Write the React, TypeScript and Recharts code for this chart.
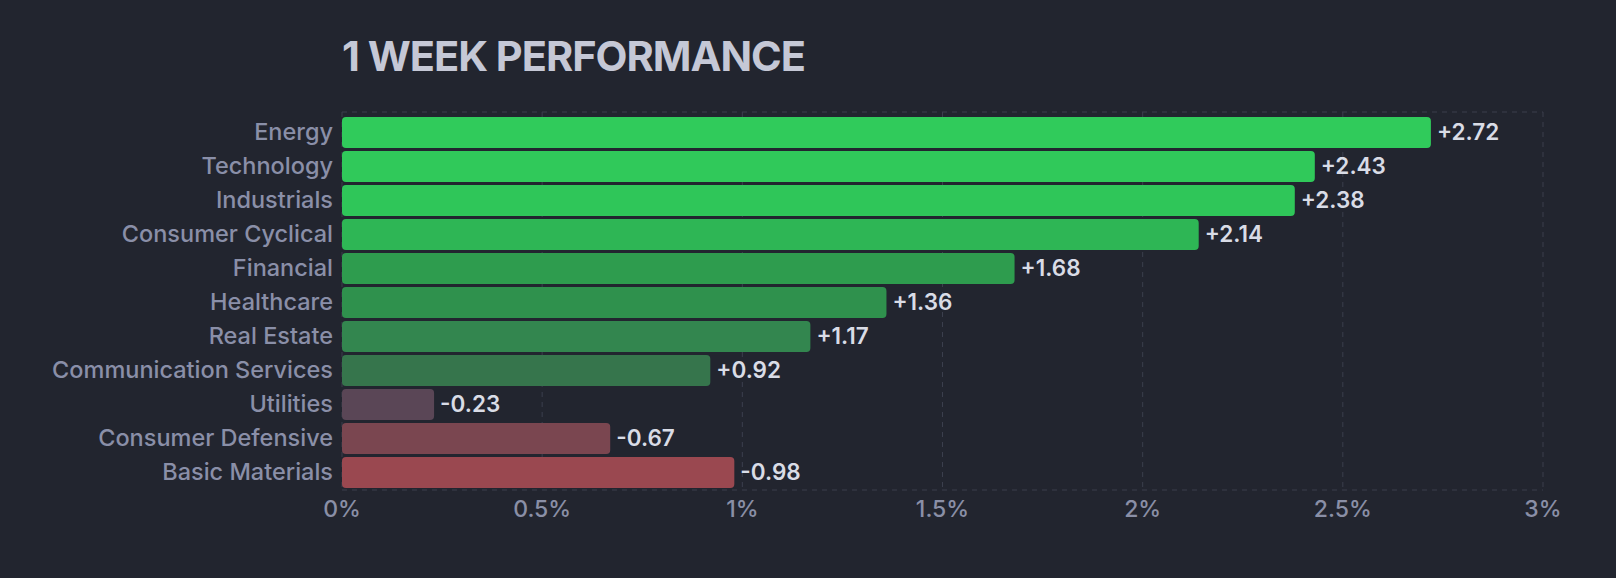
import { BarChart, Bar, XAxis, YAxis, CartesianGrid, Cell, LabelList } from "recharts";

const sectors = [
  "Energy",
  "Technology",
  "Industrials",
  "Consumer Cyclical",
  "Financial",
  "Healthcare",
  "Real Estate",
  "Communication Services",
  "Utilities",
  "Consumer Defensive",
  "Basic Materials",
];

const weekChange = [2.72, 2.43, 2.38, 2.14, 1.68, 1.36, 1.17, 0.92, -0.23, -0.67, -0.98];

const barColors = [
  "#30cb5b",
  "#30c95a",
  "#2fc659",
  "#2eb655",
  "#2e9c4e",
  "#2f914d",
  "#33864f",
  "#36754c",
  "#5a4656",
  "#7a4650",
  "#9a4850",
];

const xTicks = [0, 0.5, 1, 1.5, 2, 2.5, 3];

const chartData = sectors.map((name, i) => ({
  name,
  change: weekChange[i],
  size: Math.abs(weekChange[i]),
}));

const fmtChange = (v: number) => (v > 0 ? `+${v.toFixed(2)}` : v.toFixed(2));

export default function App() {
  return (
    <div
      style={{
        position: "fixed",
        top: 0,
        left: 0,
        width: 1616,
        height: 578,
        background: "#22252f",
        fontFamily: "Inter, sans-serif",
      }}
    >
      <div
        style={{
          position: "absolute",
          left: 342,
          top: 28,
          fontSize: 41.5,
          fontWeight: 700,
          letterSpacing: -1,
          color: "#c5c8d6",
          lineHeight: "56px",
        }}
      >
        1 WEEK PERFORMANCE
      </div>
      <BarChart
        width={1616}
        height={578}
        data={chartData}
        layout="vertical"
        margin={{ top: 112, right: 73, bottom: 48, left: 0 }}
      >
        <CartesianGrid
          stroke="#3b3f4d"
          strokeDasharray="5 5"
          horizontalCoordinatesGenerator={({ offset }: any) => [offset.top, offset.top + offset.height]}
        />
        <XAxis
          type="number"
          domain={[0, 3]}
          ticks={xTicks}
          tickFormatter={(v) => `${v}%`}
          axisLine={false}
          tickLine={false}
          tickMargin={5}
          height={40}
          tick={{ fontSize: 23, fontWeight: 500, fill: "#8a8fa6" }}
        />
        <YAxis
          type="category"
          dataKey="name"
          width={342}
          axisLine={false}
          tickLine={false}
          tickMargin={3}
          interval={0}
          padding={{ top: 3, bottom: 1 }}
          tick={{ fontSize: 23.5, fontWeight: 500, fill: "#8a8fa8" }}
        />
        <Bar dataKey="size" barSize={31} radius={4} isAnimationActive={false}>
          {chartData.map((d, i) => (
            <Cell key={d.name} fill={barColors[i]} />
          ))}
          <LabelList
            dataKey="change"
            position="right"
            offset={6}
            formatter={(v: any) => fmtChange(Number(v))}
            style={{ fontSize: 22.5, fontWeight: 600, fill: "#d9dce6" }}
          />
        </Bar>
      </BarChart>
    </div>
  );
}
